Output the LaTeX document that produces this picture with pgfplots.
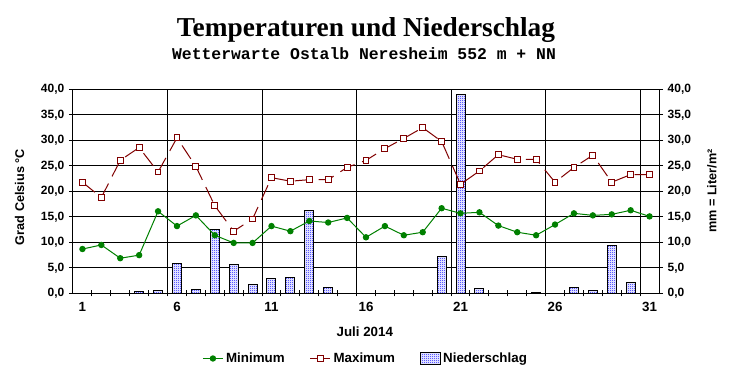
\documentclass[border=0pt]{standalone}
\usepackage{fontspec}
\setmainfont{Liberation Sans}
\newfontfamily\titlefont{Liberation Serif}
\newfontfamily\subfont{Liberation Mono}
\usepackage{pgfplots}
\pgfplotsset{compat=1.18}
\usetikzlibrary{patterns}
\pgfdeclarepatternformonly{densedots}{\pgfpointorigin}{\pgfpoint{1.5pt}{1.5pt}}{\pgfpoint{1.5pt}{1.5pt}}{%
 \pgfpathrectangle{\pgfpointorigin}{\pgfpoint{0.75pt}{0.75pt}}%
 \pgfpathrectangle{\pgfpoint{0.75pt}{0.75pt}}{\pgfpoint{0.75pt}{0.75pt}}%
 \pgfusepath{fill}}
\definecolor{mingreen}{RGB}{0,128,0}
\definecolor{maxred}{RGB}{128,0,0}
\pgfplotsset{
 mylinelegend/.style={legend image code/.code={\draw[mark repeat=2,mark phase=2,##1] plot coordinates {(0pt,0pt) (7.5pt,0pt) (15pt,0pt)};}},
 myboxlegend/.style={legend image code/.code={\draw[##1] (0pt,-4.3pt) rectangle (14.3pt,4.3pt);}},
 mynum/.style={/pgf/number format/fixed, /pgf/number format/fixed zerofill, /pgf/number format/precision=1, /pgf/number format/use comma, /pgf/number format/assume math mode=true},
}
\begin{document}
\begin{tikzpicture}[x=1pt,y=1pt]
\useasboundingbox (0,0) rectangle (549,285);
\node[anchor=base, font=\titlefont\bfseries\fontsize{20.5}{24}\selectfont] at (274.5,257.8) {Temperaturen und Niederschlag};
\node[anchor=base, font=\subfont\bfseries\fontsize{12.3}{14}\selectfont] at (273,240.2) {Wetterwarte Ostalb Neresheim 552 m + NN};
\begin{axis}[
  at={(54.75pt,64.95pt)}, anchor=south west,
  width=439.5pt, height=153pt, scale only axis,
  xmin=0.5, xmax=31.5, ymin=0, ymax=40,
  xtick={1,6,11,16,21,26,31},
  major x tick style={draw=none},
  minor xtick={1.5,2.5,...,30.5},
  minor tick length=4.5pt,
  minor tick style={black, line width=0.75pt},
  extra x ticks={5.5,10.5,15.5,20.5,25.5,30.5},
  extra x tick labels={},
  extra x tick style={grid=major},
  ytick={0,5,...,40},
  ymajorgrids,
  grid style={black, line width=0.75pt},
  major grid style={black, line width=0.75pt},
  axis line style={black, line width=0.75pt},
  tick align=center,
  major tick length=6pt,
  major tick style={black, line width=0.75pt},
  xtick pos=bottom, ytick pos=left,
  yticklabel style={mynum, font=\bfseries\fontsize{9}{11}\selectfont},
  xticklabel style={/pgf/number format/assume math mode=true, font=\bfseries\fontsize{10}{12}\selectfont},
  xlabel={Juli 2014},
  xlabel style={at={(axis description cs:0.498,-0.188)}, anchor=center, font=\bfseries\fontsize{10}{12}\selectfont},
  ylabel={Grad Celsius °C},
  ylabel style={at={(axis description cs:-0.0913,0.472)}, anchor=center, font=\bfseries\fontsize{9.5}{11}\selectfont},
  legend style={at={(axis description cs:0.5,-0.319)}, anchor=center, draw=none, fill=none,
    legend columns=3, font=\bfseries\fontsize{10}{12}\selectfont,
    /tikz/every even column/.append style={column sep=17pt}},
]
\addlegendimage{mylinelegend, mingreen, line width=0.75pt, mark=*, mark size=2pt}
\addlegendentry{Minimum}
\addlegendimage{mylinelegend, maxred, line width=0.75pt, mark=square*, mark options={fill=white}, mark size=2.2pt}
\addlegendentry{Maximum}
\addlegendimage{myboxlegend, draw=black, line width=0.75pt, pattern=densedots, pattern color=blue}
\addlegendentry{Niederschlag}

\addplot[ybar, bar width=6.75pt, fill=white, draw=none, forget plot] coordinates {
(4,0.45) (5,0.6) (6,5.9) (7,0.8) (8,12.5) (9,5.7) (10,1.8) (11,3.0) (12,3.2) (13,16.3) (14,1.2)
(20,7.25) (21,39.0) (22,1.0) (25,0.2) (27,1.2) (28,0.6) (29,9.4) (30,2.2)};
\addplot[ybar, bar width=6.75pt, draw=black, line width=0.75pt, pattern=densedots, pattern color=blue, forget plot] coordinates {
(4,0.45) (5,0.6) (6,5.9) (7,0.8) (8,12.5) (9,5.7) (10,1.8) (11,3.0) (12,3.2) (13,16.3) (14,1.2)
(20,7.25) (21,39.0) (22,1.0) (25,0.2) (27,1.2) (28,0.6) (29,9.4) (30,2.2)};

\addplot[mingreen, line width=0.75pt, mark=*, mark size=2pt, forget plot] coordinates {
(1,8.7) (2,9.5) (3,6.9) (4,7.5) (5,16.1) (6,13.2) (7,15.3) (8,11.4) (9,9.9) (10,9.9)
(11,13.2) (12,12.2) (13,14.2) (14,13.9) (15,14.8) (16,11.0) (17,13.2) (18,11.4) (19,12.0) (20,16.7)
(21,15.7) (22,15.9) (23,13.3) (24,12.0) (25,11.4) (26,13.5) (27,15.7) (28,15.3) (29,15.5) (30,16.3) (31,15.1)};

\addplot[maxred, line width=0.75pt, dash pattern=on 12pt off 6pt, mark=square*, mark options={solid, fill=white}, mark size=2.2pt, forget plot] coordinates {
(1,21.8) (2,18.8) (3,26.1) (4,28.6) (5,23.8) (6,30.5) (7,24.9) (8,17.2) (9,12.2) (10,14.6)
(11,22.7) (12,22.0) (13,22.3) (14,22.3) (15,24.7) (16,26.1) (17,28.4) (18,30.4) (19,32.5) (20,29.8)
(21,21.4) (22,24.0) (23,27.2) (24,26.3) (25,26.3) (26,21.8) (27,24.7) (28,27.1) (29,21.8) (30,23.3) (31,23.3)};
\end{axis}
\begin{axis}[
  at={(54.75pt,64.95pt)}, anchor=south west,
  width=439.5pt, height=153pt, scale only axis,
  xmin=0.5, xmax=31.5, ymin=0, ymax=40,
  axis x line=none, axis y line*=right,
  ytick={0,5,...,40},
  axis line style={black, line width=0.75pt},
  tick align=center,
  major tick length=6pt,
  major tick style={black, line width=0.75pt},
  yticklabel style={mynum, font=\bfseries\fontsize{9}{11}\selectfont},
  ylabel={mm = Liter/m²},
  ylabel style={at={(axis description cs:1.0904,0.5015)}, anchor=center, font=\bfseries\fontsize{9.5}{11}\selectfont},
]
\addplot[draw=none, forget plot] coordinates {(1,0) (31,0)};
\end{axis}
\end{tikzpicture}
\end{document}
